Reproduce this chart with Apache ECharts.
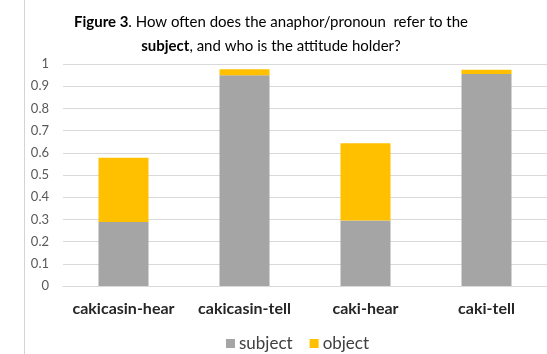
<!DOCTYPE html>
<html>
<head>
<meta charset="utf-8">
<script src="https://cdn.jsdelivr.net/npm/echarts@6/dist/echarts.min.js"></script>
<style>
  html, body { margin: 0; padding: 0; background: #fff; }
  #chart { width: 547px; height: 354px; }
</style>
</head>
<body>
<div id="chart"></div>
<script>
// data
const categories = ["cakicasin-hear", "cakicasin-tell", "caki-hear", "caki-tell"];
const subjectVals = [0.288, 0.949, 0.295, 0.955];
const objectVals = [0.29, 0.027, 0.348, 0.019];
const yTicks = [0, 0.1, 0.2, 0.3, 0.4, 0.5, 0.6, 0.7, 0.8, 0.9, 1];

const font = "Lato, 'Open Sans', sans-serif";
let myChart = echarts.init(document.getElementById("chart"));

myChart.setOption({
  backgroundColor: "#fff",
  animation: false,
  title: {
    text: "{b|Figure 3}. How often does the anaphor/pronoun  refer to the\n{b|subject}, and who is the attitude holder?",
    left: 266,
    textAlign: "center",
    top: 5,
    textStyle: {
      fontFamily: font,
      fontSize: 15,
      fontWeight: "normal",
      color: "#000",
      lineHeight: 24,
      rich: {
        b: { fontFamily: font, fontSize: 15, fontWeight: "bold", color: "#000" },
      },
    },
  },
  graphic: [
    // left page edge
    {
      type: "line",
      shape: { x1: 24.5, y1: 0, x2: 24.5, y2: 354 },
      style: { stroke: "#d4d4d4", lineWidth: 1 },
    },
  ],
  legend: {
    data: ["subject", "object"],
    left: 221,
    top: 330,
    itemWidth: 9,
    itemHeight: 9,
    itemGap: 17,
    icon: "rect",
    textStyle: { fontFamily: font, fontSize: 17, color: "#404040", padding: [0, 0, 0, -1] },
  },
  grid: {
    left: 63,
    top: 64,
    width: 496,
    height: 222,
  },
  xAxis: {
    type: "category",
    data: categories,
    axisLine: { lineStyle: { color: "#d9d9d9" } },
    axisTick: { show: false },
    axisLabel: {
      interval: 0,
      fontFamily: font,
      fontSize: 16,
      fontWeight: "bold",
      color: "#262626",
      margin: 15,
    },
  },
  yAxis: {
    type: "value",
    min: yTicks[0],
    max: yTicks[yTicks.length - 1],
    interval: 0.1,
    axisLine: { show: false },
    axisTick: { show: false },
    splitLine: { lineStyle: { color: "#d9d9d9" } },
    axisLabel: {
      fontFamily: font,
      fontSize: 13,
      color: "#595959",
      margin: 14,
      formatter: (v) => String(Math.round(v * 10) / 10),
    },
  },
  series: [
    {
      name: "subject",
      type: "bar",
      stack: "total",
      barWidth: 50,
      data: subjectVals,
      itemStyle: { color: "#a5a5a5" },
    },
    {
      name: "object",
      type: "bar",
      stack: "total",
      barWidth: 50,
      data: objectVals,
      itemStyle: { color: "#ffc000" },
    },
  ],
});

window.onresize = function () {
  myChart.resize();
};
</script>
</body>
</html>
